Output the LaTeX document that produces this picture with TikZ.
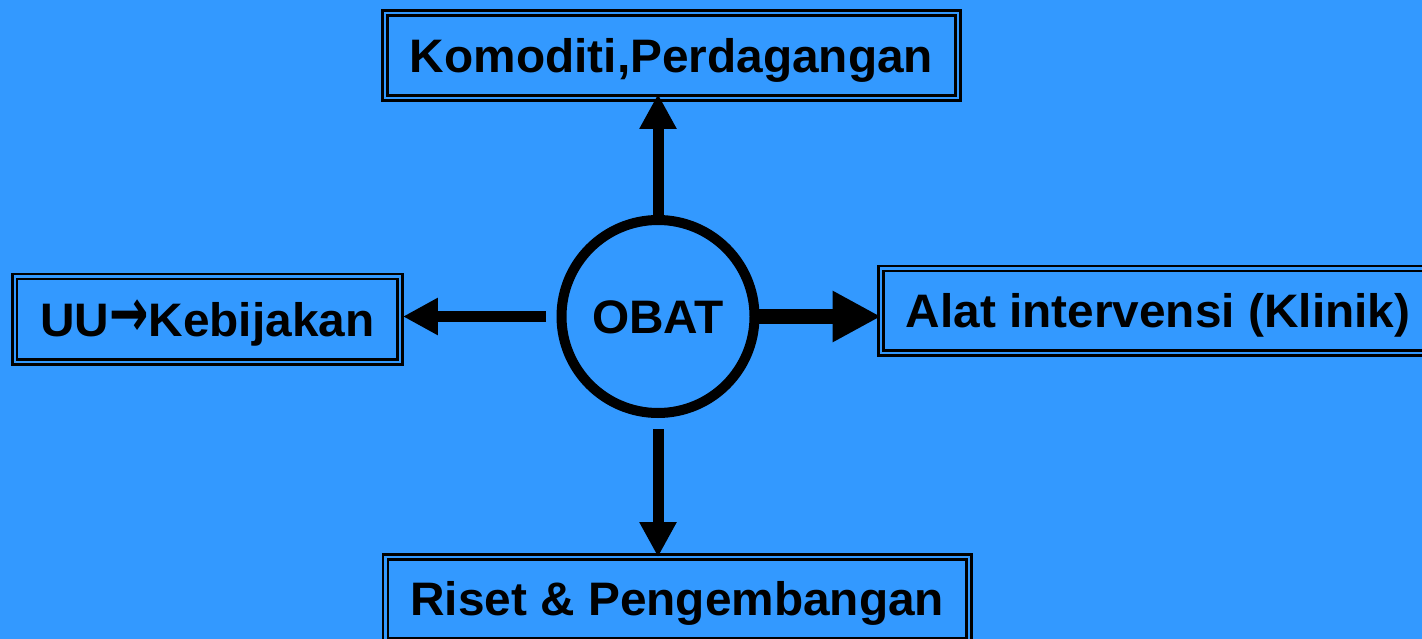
\documentclass[tikz,border=0pt]{standalone}
\usepackage{fontspec}
\setmainfont{Liberation Sans}[FakeStretch=1.017]
\newfontfamily\arrowfont{DejaVu Sans}
\usetikzlibrary{arrows.meta,calc}
\definecolor{bgblue}{RGB}{51,153,255}
% arrow glyph stretched towards the height of the capitals
\newcommand{\tallarrow}{\scalebox{1.0}[1.45]{\arrowfont →}}
\begin{document}
\begin{tikzpicture}[x=1pt,y=-1pt,
  label text/.style={font=\fontsize{47}{50}\selectfont\bfseries,
    text height=33.6pt, text depth=0pt},
  framebox/.style={label text, draw=black, line width=2.7pt,
    double=bgblue, double distance=2.2pt, inner sep=0pt, outer sep=0pt},
  hub/.style={label text, circle, draw=black, line width=10pt,
    inner sep=0pt, outer sep=0pt, minimum size=193pt},
  thinarrow/.style={line width=11pt,
    -{Triangle[width=35pt,length=35pt]}},
  thickarrow/.style={line width=15pt,
    -{Triangle[width=48pt,length=48.5pt]}}]
  \useasboundingbox (0,0) rectangle (1422,639);
  \fill[bgblue] (0,0) rectangle (1422,639);
  \clip (0,0) rectangle (1422,639);

  % central item
  \node[hub] (obat) at (658,316.5) {OBAT};

  % surrounding boxes
  \node[framebox, minimum width=573pt, minimum height=85pt]
    (top) at (671.5,55.5) {Komoditi,Perdagangan};
  \node[framebox, minimum width=385.3pt, minimum height=85.5pt]
    (lbox) at (207.3,319.25) {UU\tallarrow Kebijakan};
  \node[framebox, minimum width=554pt, minimum height=84.5pt]
    (rbox) at (1158,310.75) {Alat intervensi (Klinik)};
  \node[framebox, minimum width=583.5pt, minimum height=84pt]
    (bot) at (677.25,599) {Riset \& Pengembangan};

  % connectors
  \draw[thinarrow] (obat.north) -- ([yshift=4pt]top.south -| obat.north);
  \draw[thinarrow] ([yshift=-16pt]obat.south) -- (bot.north -| obat.south);
  \draw[thinarrow] ([xshift=-15.5pt]obat.west) -- ($(lbox.east |- obat.west)+(3,0)$);
  \draw[thickarrow] (obat.east) -- (rbox.west |- obat.east);
\end{tikzpicture}
\end{document}
